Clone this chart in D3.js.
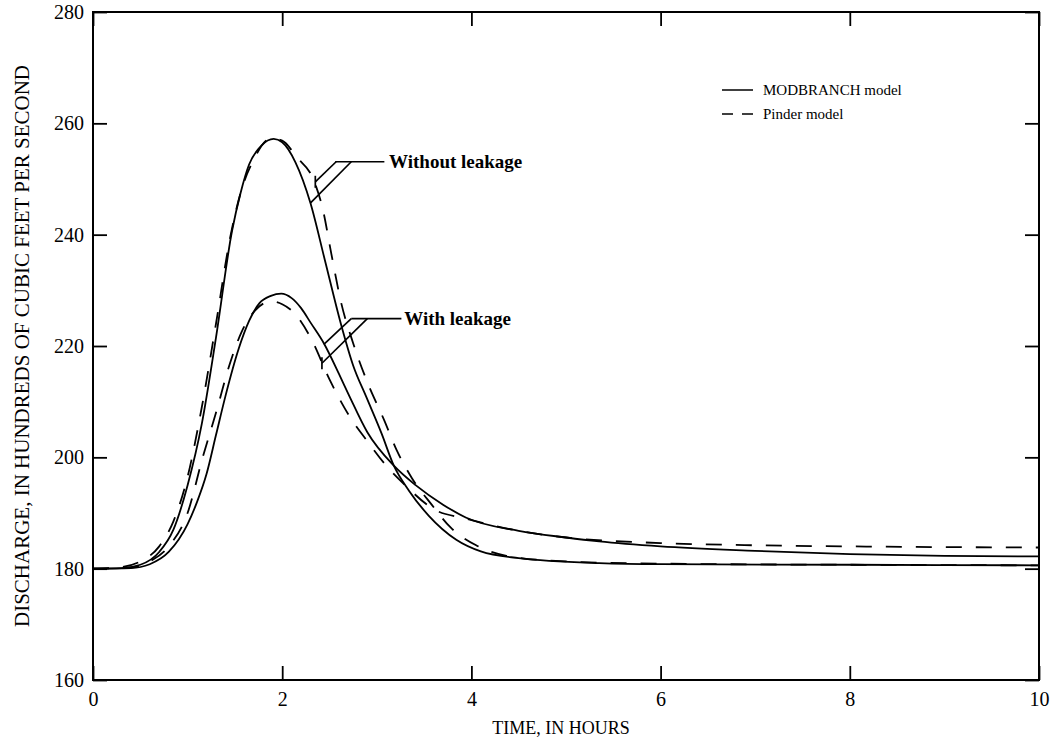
<!DOCTYPE html>
<html>
<head>
<meta charset="utf-8">
<script src="https://cdn.jsdelivr.net/npm/d3@7"></script>
<style>
  html, body { margin: 0; padding: 0; background: #fff; }
  svg text { font-family: "Liberation Serif", "Times New Roman", serif; fill: #000; }
</style>
</head>
<body>
<svg id="chart" width="1057" height="741"></svg>
<script>
// ---------- data ----------
const xTicks = [0, 2, 4, 6, 8, 10];
const yTicks = [160, 180, 200, 220, 240, 260, 280];

// MODBRANCH model, without leakage
const modWithoutHours = [0, 0.3, 0.5, 0.7, 0.85, 1.0, 1.15, 1.3, 1.47, 1.56, 1.65, 1.78, 1.91, 2.0, 2.14, 2.3, 2.45, 2.62, 2.75, 2.89, 3.05, 3.18, 3.34, 3.55, 3.84, 4.1, 4.5, 5.35, 6, 8, 10];
const modWithoutQ = [180, 180.1, 180.7, 183, 187, 195, 206, 221.5, 240.7, 247.5, 252.6, 256, 257.2, 256.6, 253, 245.6, 235.5, 224, 216.5, 210.8, 204.3, 198.5, 194, 189.5, 185.2, 183.1, 181.9, 181.0, 180.8, 180.7, 180.6];

// Pinder model, without leakage
const pinWithoutHours = [0, 0.3, 0.5, 0.7, 0.85, 1.0, 1.15, 1.3, 1.45, 1.56, 1.7, 1.88, 2.0, 2.15, 2.34, 2.43, 2.52, 2.62, 2.75, 2.9, 3.08, 3.21, 3.37, 3.58, 3.78, 4.05, 4.37, 5, 6, 8, 10];
const pinWithoutQ = [180, 180.3, 181.3, 184, 188.5, 196.5, 209, 224, 239.5, 247.5, 253.5, 257.3, 256.9, 254, 249.5, 244.5, 236.5, 228, 220.5, 213.5, 206.6, 201.3, 196.3, 191.5, 187.4, 184.2, 182.3, 181.3, 180.9, 180.7, 180.6];

// MODBRANCH model, with leakage
const modWithHours = [0, 0.4, 0.6, 0.8, 1.0, 1.1, 1.2, 1.3, 1.4, 1.54, 1.65, 1.76, 1.88, 1.99, 2.1, 2.2, 2.3, 2.44, 2.6, 2.71, 2.9, 3.18, 3.41, 3.7, 3.94, 4.5, 5, 5.35, 6, 7, 8, 9, 10];
const modWithQ = [180, 180.1, 180.8, 183, 188, 192, 197, 204, 211, 219.5, 224.5, 227.7, 229, 229.4, 228.6, 226.8, 224.2, 220.5, 215, 211, 204.5, 198.5, 195, 191.5, 189.2, 186.8, 185.6, 184.9, 184.0, 183.2, 182.6, 182.3, 182.2];

// Pinder model, with leakage
const pinWithHours = [0, 0.4, 0.6, 0.8, 1.0, 1.16, 1.3, 1.45, 1.57, 1.72, 1.88, 2.0, 2.15, 2.3, 2.5, 2.71, 2.9, 3.1, 3.3, 3.6, 3.94, 4.5, 5, 6, 7, 8, 10];
const pinWithQ = [180, 180.2, 181.3, 184, 190, 200, 208, 217, 222.5, 226.5, 228, 227.5, 225.5, 221.5, 214, 207.4, 202.9, 198.5, 195, 190.7, 189, 186.8, 185.6, 184.6, 184.2, 184.0, 183.8];

// annotation labels and leader anchor points (in data units: hours, discharge)
const annoLabels = ["Without leakage", "With leakage"];
const annoTextAt = [[3.13, 253.1], [3.29, 224.9]];
const annoBar = [[2.56, 3.08], [2.73, 3.26]];
const annoSolidLeader = [[2.73, 2.30, 245.7], [2.73, 2.44, 220.3]];
const annoDashLeader = [[2.57, 2.35, 249.5], [2.90, 2.42, 216.9]];

const legendLabels = ["MODBRANCH model", "Pinder model"];

// ---------- layout ----------
const svg = d3.select("#chart");
const plotL = 93, plotR = 1039, plotT = 12, plotB = 680;
const x = d3.scaleLinear().domain([0, 10]).range([plotL, plotR]);
const y = d3.scaleLinear().domain([160, 280]).range([plotB, plotT]);

const tickLen = 14;
const fontTick = 20;

svg.append("rect")
  .attr("x", plotL).attr("y", plotT)
  .attr("width", plotR - plotL).attr("height", plotB - plotT)
  .attr("fill", "none").attr("stroke", "#000").attr("stroke-width", 2);

const gB = svg.append("g").attr("transform", `translate(0,${plotB})`)
  .call(d3.axisBottom(x).tickValues(xTicks).tickFormat(d3.format("d")).tickSizeInner(-tickLen).tickSizeOuter(0).tickPadding(12));
const gT = svg.append("g").attr("transform", `translate(0,${plotT})`)
  .call(d3.axisTop(x).tickValues(xTicks).tickFormat("").tickSizeInner(-tickLen).tickSizeOuter(0));
const gL = svg.append("g").attr("transform", `translate(${plotL},0)`)
  .call(d3.axisLeft(y).tickValues(yTicks).tickFormat(d3.format("d")).tickSizeInner(-tickLen).tickSizeOuter(0).tickPadding(9));
const gR = svg.append("g").attr("transform", `translate(${plotR},0)`)
  .call(d3.axisRight(y).tickValues(yTicks).tickFormat("").tickSizeInner(-tickLen).tickSizeOuter(0));

[gB, gT, gL, gR].forEach(g => {
  g.select(".domain").remove();
  g.selectAll(".tick line").attr("stroke", "#000").attr("stroke-width", 1.8);
  g.selectAll(".tick text").attr("font-size", fontTick)
    .attr("font-family", "'Liberation Serif', 'Times New Roman', serif").attr("fill", "#000");
});

svg.append("text")
  .attr("x", (plotL + plotR) / 2 - 5).attr("y", 734)
  .attr("text-anchor", "middle").attr("font-size", 18)
  .text("TIME, IN HOURS");

svg.append("text")
  .attr("transform", `translate(29,${(plotT + plotB) / 2}) rotate(-90)`)
  .attr("text-anchor", "middle").attr("font-size", 21)
  .text("DISCHARGE, IN HUNDREDS OF CUBIC FEET PER SECOND");

const line = d3.line().x(d => x(d[0])).y(d => y(d[1])).curve(d3.curveMonotoneX);
const zip = (a, b) => a.map((v, i) => [v, b[i]]);
const series = [
  { data: zip(modWithoutHours, modWithoutQ), dash: null },
  { data: zip(pinWithoutHours, pinWithoutQ), dash: "16,14" },
  { data: zip(modWithHours, modWithQ), dash: null },
  { data: zip(pinWithHours, pinWithQ), dash: "16,14" }
];
svg.append("g").selectAll("path").data(series).join("path")
  .attr("d", d => line(d.data))
  .attr("fill", "none").attr("stroke", "#000").attr("stroke-width", 1.8)
  .attr("stroke-dasharray", d => d.dash);

const ga = svg.append("g").attr("stroke", "#000").attr("stroke-width", 1.7).attr("fill", "none");
annoLabels.forEach((lab, i) => {
  const yb = y(annoTextAt[i][1]);
  ga.append("line").attr("x1", x(annoBar[i][0])).attr("x2", x(annoBar[i][1])).attr("y1", yb).attr("y2", yb);
  const s = annoSolidLeader[i];
  ga.append("line").attr("x1", x(s[0])).attr("y1", yb).attr("x2", x(s[1])).attr("y2", y(s[2]));
  const d = annoDashLeader[i];
  ga.append("line").attr("x1", x(d[0])).attr("y1", yb).attr("x2", x(d[1])).attr("y2", y(d[2]));
  ga.append("line").attr("x1", x(d[1])).attr("x2", x(d[1])).attr("y1", y(d[2]) - 6).attr("y2", y(d[2]) + 6);
  svg.append("text")
    .attr("x", x(annoTextAt[i][0])).attr("y", yb).attr("dy", "0.35em")
    .attr("font-size", 19).attr("font-weight", "bold")
    .text(lab);
});

const lg = svg.append("g").attr("transform", "translate(722,90)");
legendLabels.forEach((lab, i) => {
  lg.append("line").attr("x1", 0).attr("x2", 31).attr("y1", i * 24).attr("y2", i * 24)
    .attr("stroke", "#000").attr("stroke-width", 1.5)
    .attr("stroke-dasharray", i === 1 ? "11,9" : null);
  lg.append("text").attr("x", 41).attr("y", i * 24).attr("dy", "0.35em")
    .attr("font-size", 15).text(lab);
});
</script>
</body>
</html>
